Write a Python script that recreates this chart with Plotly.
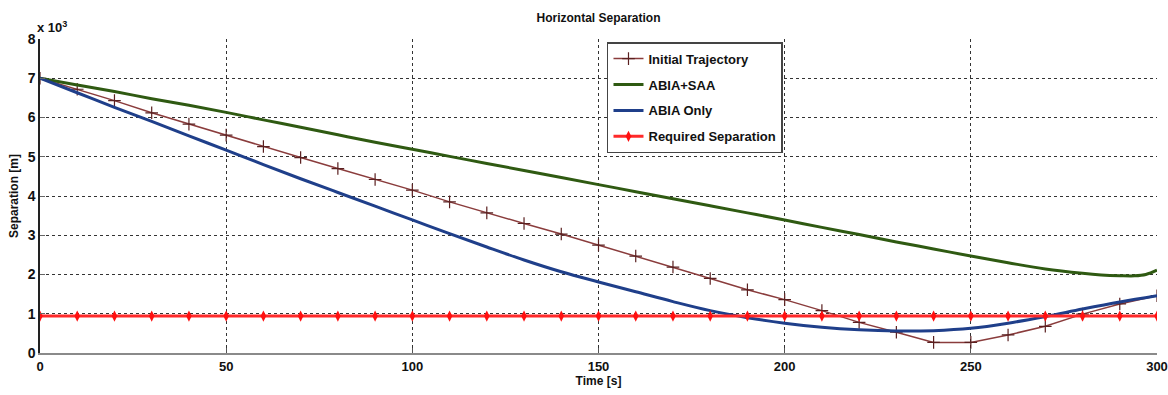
import plotly.graph_objects as go

# ---- data ----
time_s = list(range(0, 301, 10))
initial_traj = [7000, 6720, 6430, 6120, 5830, 5550, 5260, 4980, 4700, 4420,
                4150, 3850, 3570, 3300, 3030, 2750, 2470, 2190, 1900, 1610,
                1360, 1080, 780, 530, 270, 270, 460, 680, 990, 1250, 1460]
abia_saa_t = [0, 10, 20, 30, 40, 50, 60, 70, 80, 90, 100, 110, 120, 130, 140, 150,
              160, 170, 180, 190, 200, 210, 220, 230, 240, 250, 260, 270, 280,
              285, 290, 294, 297, 300]
abia_saa = [7000, 6830, 6660, 6480, 6310, 6130, 5940, 5750, 5560, 5370, 5190,
            5010, 4830, 4650, 4470, 4290, 4110, 3930, 3750, 3570, 3390, 3200,
            3020, 2830, 2650, 2470, 2300, 2140, 2030, 1990, 1970, 1965, 2000, 2110]
abia_only = [7000, 6630, 6260, 5900, 5530, 5170, 4800, 4440, 4090, 3740,
             3390, 3040, 2700, 2370, 2070, 1810, 1560, 1310, 1080, 900,
             760, 655, 590, 560, 570, 630, 760, 930, 1120, 1300, 1460]
required_sep = [940] * len(time_s)

x_ticks = [0, 50, 100, 150, 200, 250, 300]
y_ticks = [0, 1000, 2000, 3000, 4000, 5000, 6000, 7000, 8000]
y_ticktext = ["0", "1", "2", "3", "4", "5", "6", "7", "8"]

FONT = "Liberation Sans, Arial, sans-serif"

fig = go.Figure()
fig.add_trace(go.Scatter(
    x=time_s, y=initial_traj, name="<b>Initial Trajectory</b>", legendgroup="a",
    mode="lines+markers", line=dict(color="#8a3c3c", width=1.5),
    marker=dict(symbol="cross-thin", size=9, line=dict(color="#5a2020", width=1.2))))
fig.add_trace(go.Scatter(
    x=abia_saa_t, y=abia_saa, name="<b>ABIA+SAA</b>", legendgroup="b",
    mode="lines", line=dict(color="#2f5a12", width=3, shape="spline")))
fig.add_trace(go.Scatter(
    x=time_s, y=abia_only, name="<b>ABIA Only</b>", legendgroup="c",
    mode="lines", line=dict(color="#1f3f8a", width=3, shape="spline")))
fig.add_trace(go.Scatter(
    x=time_s, y=required_sep, name="<b>Required Separation</b>", legendgroup="d",
    mode="lines+markers", line=dict(color="#ff2a2a", width=3),
    marker=dict(symbol="diamond-tall", size=8, color="#ff1010")))

fig.update_layout(
    width=1168, height=395,
    margin=dict(l=40, r=11, t=39, b=42, autoexpand=False),
    paper_bgcolor="white", plot_bgcolor="white",
    font=dict(family=FONT, size=13, color="#111"),
    title=dict(text="<b>Horizontal Separation</b>", x=0.5124, xanchor="center",
               y=0.955, yanchor="middle", font=dict(size=12, family=FONT)),
    legend=dict(x=0.5076, y=0.99, xanchor="left", yanchor="top",
                bgcolor="white", bordercolor="#444", borderwidth=1.5,
                font=dict(size=13, family=FONT, color="#111"),
                tracegroupgap=6, itemwidth=30),
    showlegend=True,
)
fig.update_xaxes(
    range=[0, 300], tickvals=x_ticks, ticktext=[f"<b>{v}</b>" for v in x_ticks],
    showgrid=True, gridcolor="#333", griddash="dot", gridwidth=1,
    showline=True, linecolor="#8a8a8a", linewidth=2, automargin=False,
    ticks="inside", ticklen=5, tickcolor="#555", zeroline=False,
    title=dict(text="<b>Time [s]</b>", font=dict(size=12, family=FONT), standoff=4),
    tickfont=dict(size=13, family=FONT))
fig.update_yaxes(
    range=[0, 8000], tickvals=y_ticks, ticktext=[f"<b>{t}</b>" for t in y_ticktext],
    showgrid=True, gridcolor="#333", griddash="dot", gridwidth=1,
    showline=True, linecolor="#222", linewidth=1.5, automargin=False,
    ticks="inside", ticklen=5, tickcolor="#666", zeroline=False,
    title=dict(text="<b>Separation [m]</b>", font=dict(size=12, family=FONT), standoff=6),
    tickfont=dict(size=14, family=FONT))

fig.add_annotation(xref="paper", yref="paper", x=0.0, y=1.0, xanchor="left",
                   yanchor="bottom", xshift=-5, yshift=2, showarrow=False,
                   text="<b>x 10<sup>3</sup></b>", font=dict(size=13, family=FONT))

fig.write_html("out.html")
